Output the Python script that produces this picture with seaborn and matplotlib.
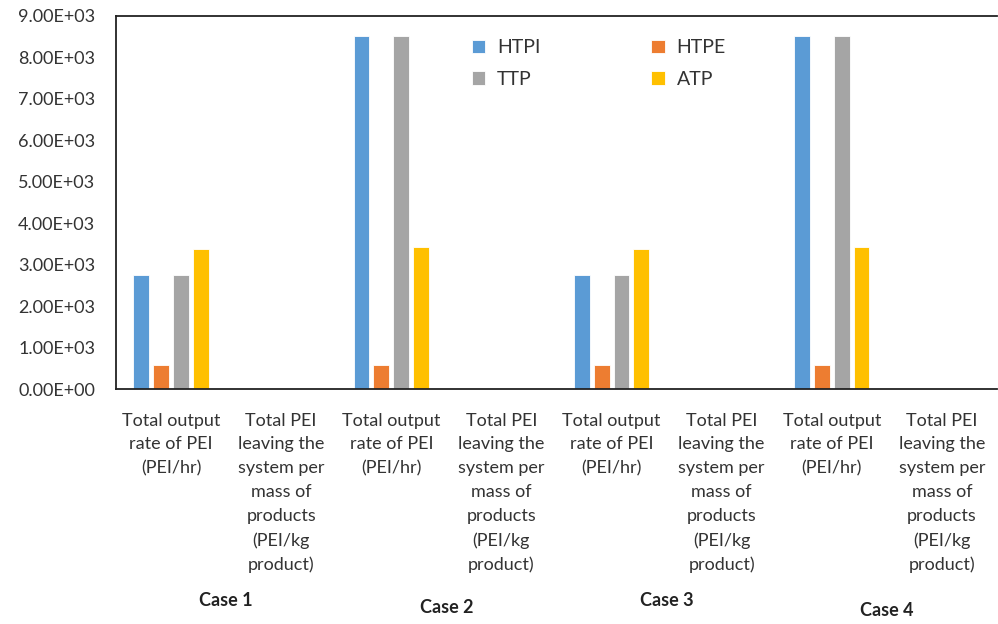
import matplotlib
matplotlib.use("Agg")
import matplotlib.pyplot as plt
import matplotlib.transforms as mtransforms
from matplotlib.ticker import FormatStrFormatter, FixedLocator
import seaborn as sns
import pandas as pd

sns.set_style("white")
plt.rcParams["font.family"] = ["Lato", "DejaVu Sans"]

# ── data ────────────────────────────────────────────────
cases = ["Case 1", "Case 2", "Case 3", "Case 4"]
metric_labels = [
    "Total output\nrate of PEI\n(PEI/hr)",
    "Total PEI\nleaving the\nsystem per\nmass of\nproducts\n(PEI/kg\nproduct)",
]
series = ["HTPI", "HTPE", "TTP", "ATP"]

# one value per (case, metric); second metric is tiny on this scale
htpi = [2760, 0.52, 8520, 0.52, 2760, 0.52, 8520, 0.52]
htpe = [580, 0.11, 580, 0.11, 580, 0.11, 580, 0.11]
ttp  = [2760, 0.52, 8520, 0.52, 2760, 0.52, 8520, 0.52]
atp  = [3380, 0.62, 3430, 0.62, 3380, 0.62, 3430, 0.62]

colors = ["#5B9BD5", "#ED7D31", "#A5A5A5", "#FFC000"]

keys = [f"{c}|{m}" for c in cases for m in range(len(metric_labels))]
rows = []
for name, vals in zip(series, [htpi, htpe, ttp, atp]):
    for k, v in zip(keys, vals):
        rows.append({"cat": k, "series": name, "value": v})
df = pd.DataFrame(rows)

# ── plot ────────────────────────────────────────────────
fig = plt.figure(figsize=(9.98, 6.24), dpi=100)
ax = fig.add_axes([0.1162, 0.3766, 0.8828, 0.5978])

sns.barplot(data=df, x="cat", y="value", hue="series", order=keys,
            hue_order=series, palette=colors, saturation=1, width=0.72, gap=0.2,
            edgecolor="white", linewidth=0.6, ax=ax, legend=True)

ax.set_ylim(0, 9000)
ax.set_xlim(-0.5, len(keys) - 0.5)
ax.set_yticks(range(0, 9001, 1000))
ax.yaxis.set_major_formatter(FormatStrFormatter("%.2E"))
ax.tick_params(axis="y", length=0, pad=15, labelsize=13, labelcolor="#333333")

ax.set_xticks(range(len(keys)))
ax.set_xticklabels([metric_labels[i % 2] for i in range(len(keys))],
                   fontsize=13, color="#333333", linespacing=1.6)
ax.tick_params(axis="x", which="major", length=0, pad=17)
ax.xaxis.set_minor_locator(FixedLocator([-0.5 + 2 * i for i in range(len(cases) + 1)]))
ax.tick_params(axis="x", which="minor", length=7, width=1.2, color="#222222",
               direction="out")

ax.set_xlabel("")
ax.set_ylabel("")

for side in ["left", "bottom", "top"]:
    ax.spines[side].set_visible(True)
    ax.spines[side].set_color("#222222")
    ax.spines[side].set_linewidth(1.3)
ax.spines["right"].set_visible(False)

trans = mtransforms.blended_transform_factory(ax.transData, fig.transFigure)
case_y = [0.038, 0.026, 0.038, 0.022]
for i, c in enumerate(cases):
    ax.text(2 * i + 0.5, case_y[i], c, transform=trans, ha="center", va="center",
            fontsize=13, fontweight="bold", color="#222222")

# Excel fills legend row by row: HTPI HTPE / TTP ATP
handles, labels = ax.get_legend_handles_labels()
order = [0, 2, 1, 3]
ax.legend([handles[i] for i in order], [labels[i] for i in order],
          ncol=2, loc="upper left", bbox_to_anchor=(0.395, 0.958),
          frameon=False, fontsize=14, handlelength=0.7, handleheight=0.7,
          handletextpad=0.6, columnspacing=5.7, labelspacing=0.75,
          borderaxespad=0)
for t in ax.get_legend().get_texts():
    t.set_color("#333333")

fig.savefig("out.png", dpi=100, facecolor="white")
